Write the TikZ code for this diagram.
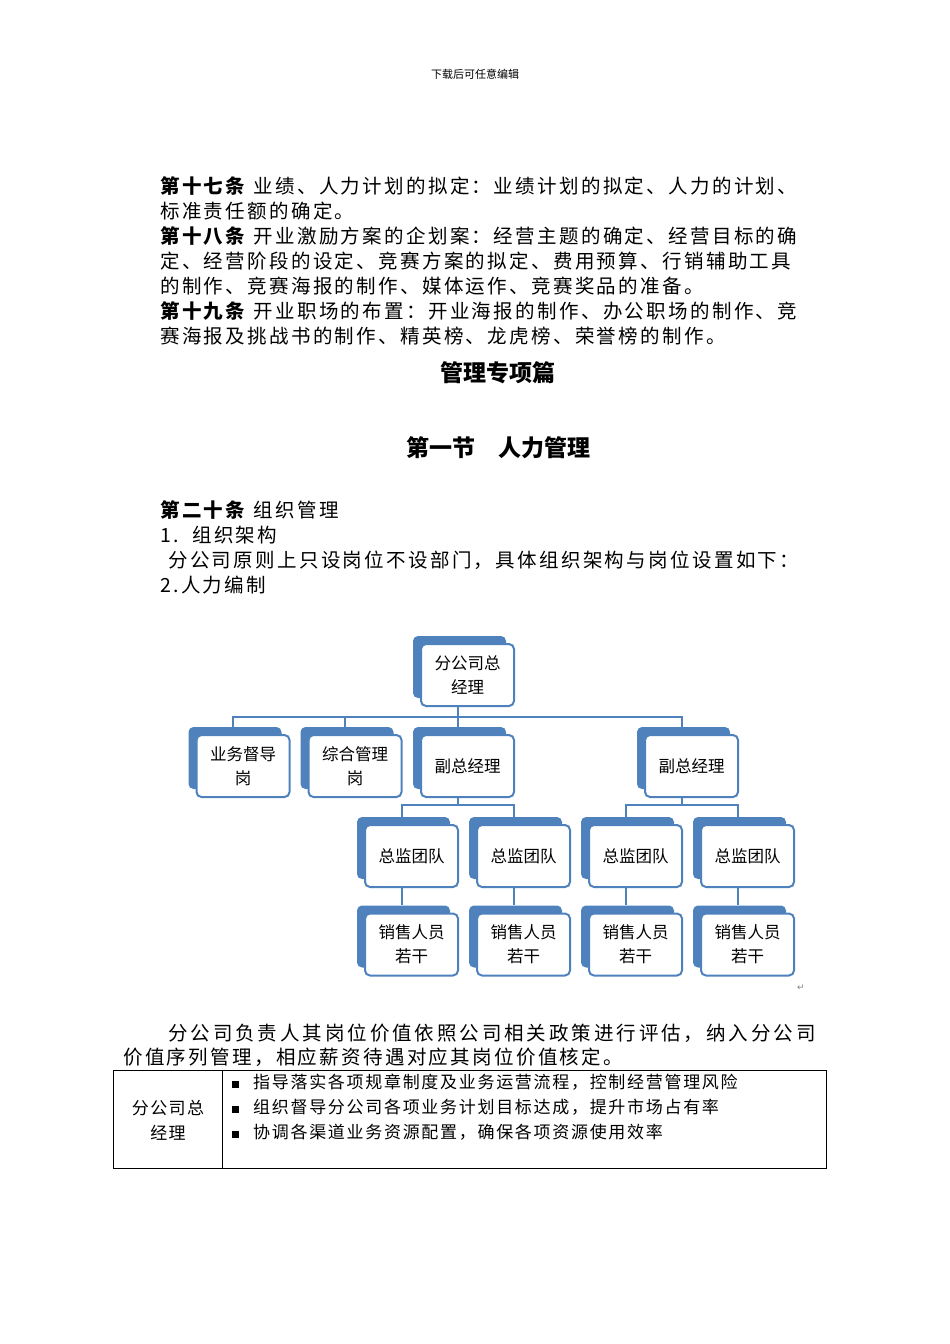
\documentclass[tikz,border=0pt]{standalone}
\usepackage{fontspec}
\usetikzlibrary{calc}
\setmainfont{Noto Sans CJK SC}
\newfontfamily\djv{DejaVu Sans}
\definecolor{obl}{HTML}{4F81BD}
\newcommand{\obox}[4]{%
  \fill[obl,rounded corners=5pt] ($(#2,#3)+(-54.5,-39)$) rectangle ++(93,62);
  \draw[obl,line width=2pt,fill=white,rounded corners=5pt] ($(#2,#3)+(-46.5,-31)$) rectangle ++(93,62);
  \node[boxtxt] at (#2,#3) {#4};
  \node[union] (#1) at ($(#2,#3)+(-10,-4)$) {};}
\begin{document}
\begin{tikzpicture}[x=1pt,y=-1pt,
  body/.style={anchor=west,inner sep=0,font=\fontsize{19.5}{22}\selectfont\addfontfeature{LetterSpace=12}},
  boxtxt/.style={align=center,inner sep=0,font=\fontsize{16.5}{24}\selectfont},
  union/.style={minimum width=101pt,minimum height=70pt,inner sep=0},
  conn/.style={obl,line width=2pt}]
\useasboundingbox (0,0) rectangle (950,1344);
\node[inner sep=0,font=\fontsize{11}{12}\selectfont] (hdr) at (475,74) {下载后可任意编辑};
\node[body] (l1) at (160,186) {\textbf{第十七条}\hspace{6pt}业绩、人力计划的拟定：业绩计划的拟定、人力的计划、};
\node[body] (l2) at (160,211) {标准责任额的确定。};
\node[body] (l3) at (160,236) {\textbf{第十八条}\hspace{6pt}开业激励方案的企划案：经营主题的确定、经营目标的确};
\node[body] (l4) at (160,261) {定、经营阶段的设定、竞赛方案的拟定、费用预算、行销辅助工具};
\node[body] (l5) at (160,286) {的制作、竞赛海报的制作、媒体运作、竞赛奖品的准备。};
\node[body] (l6) at (160,311) {\textbf{第十九条}\hspace{6pt}开业职场的布置：开业海报的制作、办公职场的制作、竞};
\node[body] (l7) at (160,336) {赛海报及挑战书的制作、精英榜、龙虎榜、荣誉榜的制作。};
\node[inner sep=0,font=\fontsize{23}{26}\selectfont\bfseries] (t1) at (498,373) {管理专项篇};
\node[inner sep=0,font=\fontsize{23}{26}\selectfont\bfseries] (t2) at (498,448) {第一节\quad 人力管理};
\node[body] (l8) at (160,510) {\textbf{第二十条}\hspace{6pt}组织管理};
\node[body] (l9) at (160,535) {1.\ \ 组织架构};
\node[body] (l10) at (168,560) {分公司原则上只设岗位不设部门，具体组织架构与岗位设置如下：};
\node[body] (l11) at (160,585) {2.人力编制};
% org chart
\obox{top}{467.5}{675}{分公司总\\经理}
\obox{a1}{243}{766}{业务督导\\岗}
\obox{a2}{355}{766}{综合管理\\岗}
\obox{a3}{467.5}{766}{副总经理}
\obox{a4}{691.5}{766}{副总经理}
\obox{b1}{411.5}{856}{总监团队}
\obox{b2}{523.5}{856}{总监团队}
\obox{b3}{635.5}{856}{总监团队}
\obox{b4}{747.5}{856}{总监团队}
\obox{c1}{411.5}{944.5}{销售人员\\若干}
\obox{c2}{523.5}{944.5}{销售人员\\若干}
\obox{c3}{635.5}{944.5}{销售人员\\若干}
\obox{c4}{747.5}{944.5}{销售人员\\若干}
\coordinate (bus0) at ($(top.south)+(0,11)$);
\foreach \c in {a1,a2,a3,a4} \draw[conn] (\c.north) |- (bus0);
\draw[conn] (top.south) -- (bus0);
\coordinate (bus1) at ($(a3.south)+(0,8)$);
\coordinate (bus2) at ($(a4.south)+(0,8)$);
\draw[conn] (a3.south) -- (bus1);
\draw[conn] (a4.south) -- (bus2);
\foreach \c in {b1,b2} \draw[conn] (\c.north) |- (bus1);
\foreach \c in {b3,b4} \draw[conn] (\c.north) |- (bus2);
\draw[conn] (b1) -- (c1); \draw[conn] (b2) -- (c2);
\draw[conn] (b3) -- (c3); \draw[conn] (b4) -- (c4);
\node[inner sep=0,text=gray,font=\djv\fontsize{9}{10}\selectfont] (ret) at (801,988) {↵};
\node[body,font=\fontsize{19.5}{22}\selectfont\addfontfeature{LetterSpace=15}] (p1) at (168,1033) {分公司负责人其岗位价值依照公司相关政策进行评估，纳入分公司};
\node[body] (p2) at (123,1057) {价值序列管理，相应薪资待遇对应其岗位价值核定。};
% table
\draw[line width=0.8pt] (113,1070) rectangle (826,1168);
\draw[line width=0.8pt] (222,1070) -- (222,1168);
\node[align=center,inner sep=0,font=\fontsize{17}{25}\selectfont\addfontfeature{LetterSpace=8}] (tc) at (168,1120) {分公司总\\经理};
\node[anchor=west,inner sep=0,font=\fontsize{17}{20}\selectfont\addfontfeature{LetterSpace=10}] (r1) at (232,1082) {\rule{7pt}{7pt}\hspace{14pt}指导落实各项规章制度及业务运营流程，控制经营管理风险};
\node[anchor=west,inner sep=0,font=\fontsize{17}{20}\selectfont\addfontfeature{LetterSpace=10}] (r2) at (232,1107) {\rule{7pt}{7pt}\hspace{14pt}组织督导分公司各项业务计划目标达成，提升市场占有率};
\node[anchor=west,inner sep=0,font=\fontsize{17}{20}\selectfont\addfontfeature{LetterSpace=10}] (r3) at (232,1132) {\rule{7pt}{7pt}\hspace{14pt}协调各渠道业务资源配置，确保各项资源使用效率};
\end{tikzpicture}
\end{document}
